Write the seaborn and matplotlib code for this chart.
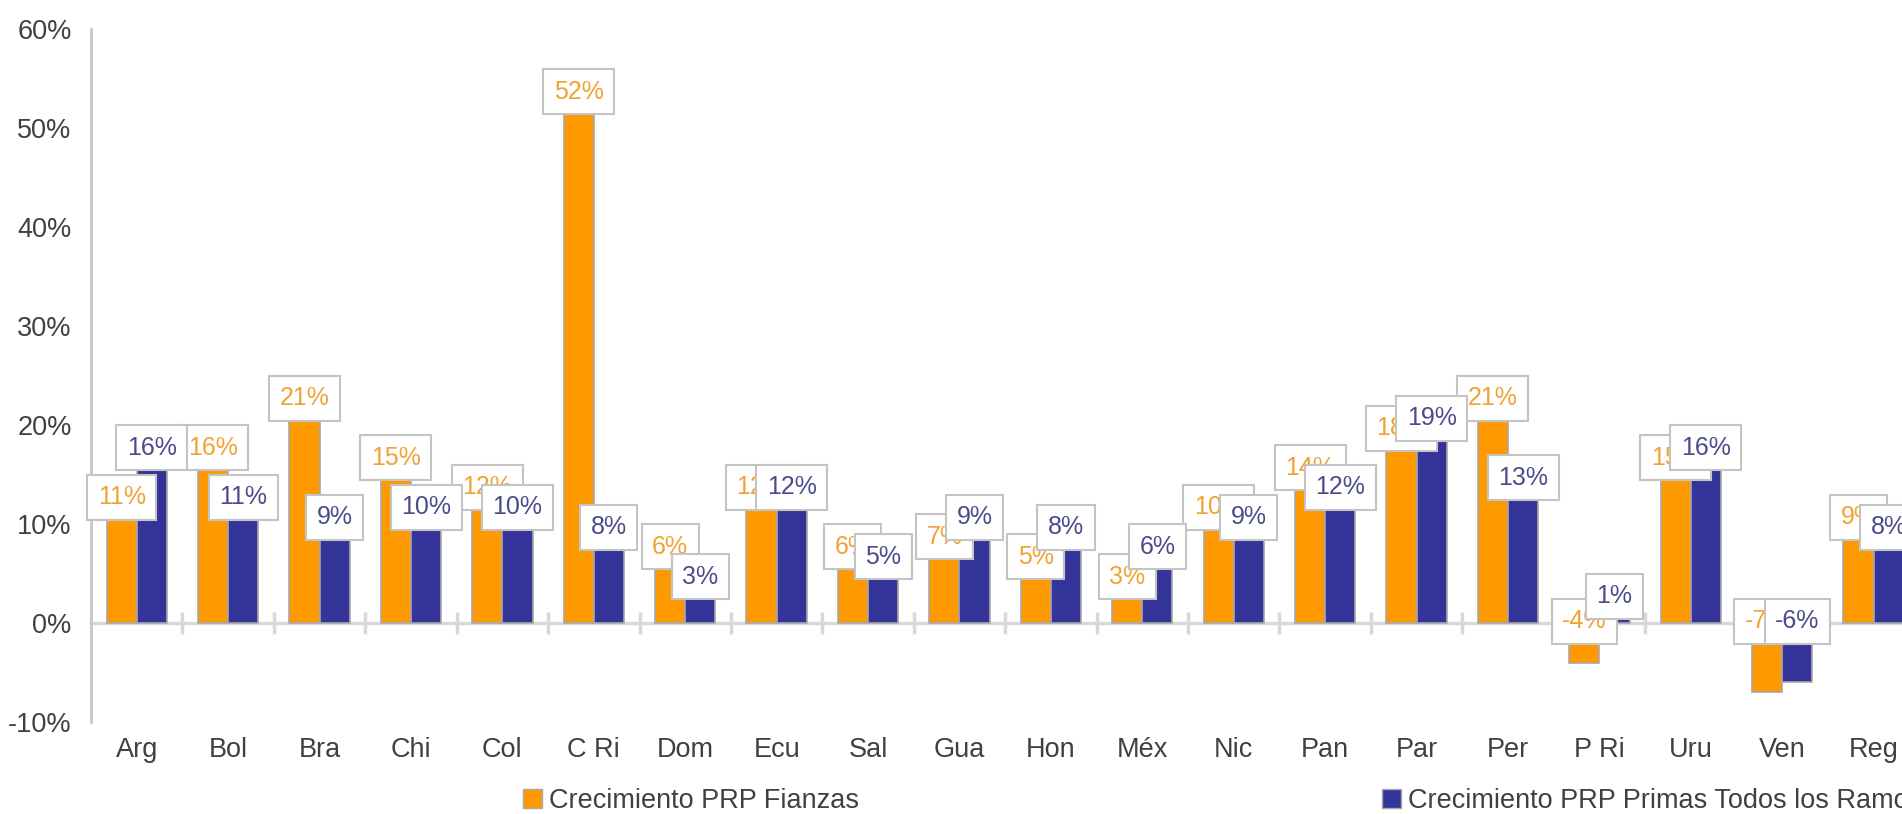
import matplotlib
matplotlib.use('Agg')
import matplotlib.pyplot as plt
import seaborn as sns
import pandas as pd
from matplotlib.patches import Patch

# ---- data ----
paises = ['Arg', 'Bol', 'Bra', 'Chi', 'Col', 'C Ri', 'Dom', 'Ecu', 'Sal', 'Gua',
          'Hon', 'Méx', 'Nic', 'Pan', 'Par', 'Per', 'P Ri', 'Uru', 'Ven', 'Reg']
fianzas = [11, 16, 21, 15, 12, 52, 6, 12, 6, 7, 5, 3, 10, 14, 18, 21, -4, 15, -7, 9]
todos = [16, 11, 9, 10, 10, 8, 3, 12, 5, 9, 8, 6, 9, 12, 19, 13, 1, 16, -6, 8]
serie_f = 'Crecimiento PRP Fianzas'
serie_t = 'Crecimiento PRP Primas Todos los Ramos'
y_ticks = [-10, 0, 10, 20, 30, 40, 50, 60]

sns.set_style('white')
plt.rcParams['font.family'] = ['Liberation Sans', 'DejaVu Sans']

df = pd.DataFrame({
    'pais': paises * 2,
    'valor': fianzas + todos,
    'serie': [serie_f] * len(paises) + [serie_t] * len(paises),
})

W, H = 1902, 814
fig = plt.figure(figsize=(W / 100, H / 100), dpi=100)
ax = fig.add_axes([91 / W, 1 - 722 / H, 1 - 91 / W, (722 - 29.3) / H])

bar_colors = {serie_f: '#FF9900', serie_t: '#333399'}
label_colors = {serie_f: '#F0A232', serie_t: '#4B4B8C'}
sns.barplot(data=df, x='pais', y='valor', hue='serie', palette=bar_colors,
            hue_order=[serie_f, serie_t], width=0.66, edgecolor='#a8a8a8',
            linewidth=1.2, legend=False, errorbar=None, saturation=1, ax=ax)

ymin, ymax = -10, 60
ax.set_ylim(ymin, ymax)
ax.set_xlim(-0.5, 19.31)
ax.set_yticks(y_ticks)
ax.set_yticklabels([f'{t}%' for t in y_ticks])
ax.set_xlabel('')
ax.set_ylabel('')

# data labels
for k, (cont, serie, vals) in enumerate(zip(ax.containers, [serie_f, serie_t], [fianzas, todos])):
    for bar, v in zip(cont, vals):
        xc = bar.get_x() + bar.get_width() / 2
        yc = v + 1.7 if v >= 0 else 0.2
        ax.text(xc, yc, f'{v}%', ha='center', va='center', fontsize=18,
                color=label_colors[serie], zorder=5 + k, clip_on=False,
                bbox=dict(boxstyle='square,pad=0.42', fc='white', ec='#c4c4c4', lw=1.5))

for s in ['top', 'right', 'bottom']:
    ax.spines[s].set_visible(False)
ax.spines['left'].set_color('#c8c8c8')
ax.spines['left'].set_linewidth(2)
ax.tick_params(axis='y', direction='inout', length=16, width=1.5, color='#c8c8c8',
               pad=6, labelsize=19.5, labelcolor='#404040')
ax.tick_params(axis='x', length=0, pad=11, labelsize=19.5, labelcolor='#404040')

# zero line with category separators
sec = ax.secondary_xaxis((0 - ymin) / (ymax - ymin))
sec.set_xticks([i + 0.5 for i in range(len(paises))])
sec.tick_params(direction='inout', length=16, width=2.5, color='#d8d8d8',
                labelbottom=False, labeltop=False)
sec.spines['bottom'].set_color('#d8d8d8')
sec.spines['bottom'].set_linewidth(2.5)

# legend
for serie, xpos in [(serie_f, 523), (serie_t, 1382)]:
    fig.legend(handles=[Patch(facecolor=bar_colors[serie], edgecolor='#a8a8a8')],
               labels=[serie], loc='center left',
               bbox_to_anchor=(xpos / W, 1 - 801 / H), frameon=False,
               fontsize=19.5, labelcolor='#404040', handlelength=0.7,
               handleheight=0.7, handletextpad=0.25, borderpad=0, borderaxespad=0)

fig.savefig('out.png', dpi=100)
